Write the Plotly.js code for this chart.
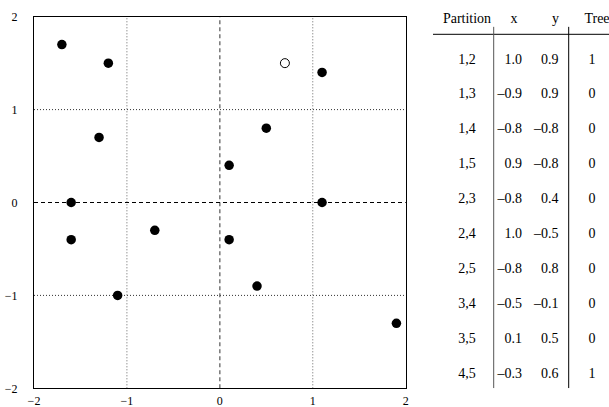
<!DOCTYPE html>
<html><head><meta charset="utf-8">
<script src="https://cdn.plot.ly/plotly-3.0.1.min.js"></script>
<style>html,body{margin:0;padding:0;background:#fff}</style>
</head><body><div id="chart" style="width:609px;height:407px"></div>
<script>
// scatter points
const filledX = [-1.7, -1.2, 1.1, -1.3, 0.5, 0.1, -1.6, 1.1, -1.6, -0.7, 0.1, -1.1, 0.4, 1.9];
const filledY = [1.7, 1.5, 1.4, 0.7, 0.8, 0.4, 0.0, 0.0, -0.4, -0.3, -0.4, -1.0, -0.9, -1.3];
const openX = [0.7];
const openY = [1.5];
const axisTicks = [-2, -1, 0, 1, 2];
const axisTickText = ['\u22122', '\u22121', '0', '1', '2'];

// table
const headers = ['Partition', 'x', 'y', 'Tree'];
const partitions = ['1,2','1,3','1,4','1,5','2,3','2,4','2,5','3,4','3,5','4,5'];
const tableX = [1.0, -0.9, -0.8, 0.9, -0.8, 1.0, -0.8, -0.5, 0.1, -0.3];
const tableY = [0.9, 0.9, -0.8, -0.8, 0.4, -0.5, 0.8, -0.1, 0.5, 0.6];
const tree = [1, 0, 0, 0, 0, 0, 0, 0, 0, 1];

const fmt = v => (v < 0 ? '\u2013' : '') + Math.abs(v).toFixed(1);
const rows = partitions.map((_, i) => i);
const serif = 'Liberation Serif';
const font = {family: serif, size: 14, color: '#000'};
const tickFont = {family: serif, size: 12, color: '#000'};

// column positions (table axis in px units)
const colPart = 467, colX = 522, colY = 558.5, colTree = 592;

const traces = [
  {x: filledX, y: filledY, mode: 'markers', type: 'scatter', xaxis: 'x', yaxis: 'y',
   marker: {size: 9.5, color: '#000', line: {width: 0}}, hoverinfo: 'skip'},
  {x: openX, y: openY, mode: 'markers', type: 'scatter', xaxis: 'x', yaxis: 'y',
   marker: {size: 9, color: '#fff', line: {width: 1, color: '#000'}}, hoverinfo: 'skip'},
  {x: rows.map(() => colPart), y: rows, text: partitions, mode: 'text', textposition: 'middle center',
   textfont: font, xaxis: 'x2', yaxis: 'y2', type: 'scatter', hoverinfo: 'skip'},
  {x: rows.map(() => colX), y: rows, text: tableX.map(fmt), mode: 'text', textposition: 'middle left',
   textfont: font, xaxis: 'x2', yaxis: 'y2', type: 'scatter', hoverinfo: 'skip'},
  {x: rows.map(() => colY), y: rows, text: tableY.map(fmt), mode: 'text', textposition: 'middle left',
   textfont: font, xaxis: 'x2', yaxis: 'y2', type: 'scatter', hoverinfo: 'skip'},
  {x: rows.map(() => colTree), y: rows, text: tree.map(String), mode: 'text', textposition: 'middle center',
   textfont: font, xaxis: 'x2', yaxis: 'y2', type: 'scatter', hoverinfo: 'skip'},
  {x: [colPart, colX - 8, colY - 3, colTree + 5], y: [-1.15, -1.15, -1.15, -1.15], text: headers,
   mode: 'text', textposition: 'middle center', textfont: font, xaxis: 'x2', yaxis: 'y2', type: 'scatter', hoverinfo: 'skip'}
];

const W = 609, H = 407;
const rowSpacing = 34.9, row0 = 60;
const px0 = 34 / W, px1 = 405.7 / W, py0 = (H - 388.3) / H, py1 = (H - 16.7) / H;
const dotLine = {color: '#666', width: 1, dash: '1px,2px'};
const layout = {
  width: W, height: H, showlegend: false,
  margin: {l: 0, r: 0, t: 0, b: 0},
  paper_bgcolor: '#fff', plot_bgcolor: '#fff',
  xaxis: {domain: [px0, px1], range: [-2, 2], tickvals: axisTicks, ticktext: axisTickText,
          showgrid: false, zeroline: false, showline: true, mirror: true, linecolor: '#000', linewidth: 1,
          ticks: '', ticklabelstandoff: 1, tickfont: tickFont},
  yaxis: {domain: [py0, py1], range: [-2, 2], tickvals: axisTicks, ticktext: axisTickText,
          showgrid: false, zeroline: false, showline: true, mirror: true, linecolor: '#000', linewidth: 1,
          ticks: '', ticklabelstandoff: 13, tickfont: tickFont},
  xaxis2: {domain: [420 / W, 1], range: [420, 609], visible: false, fixedrange: true},
  yaxis2: {domain: [0, 1], range: [(H - row0) / rowSpacing, -row0 / rowSpacing], visible: false, fixedrange: true, anchor: 'x2'},
  shapes: [
    {type: 'line', xref: 'x', yref: 'paper', x0: -1, x1: -1, y0: py0, y1: py1, layer: 'below', line: dotLine},
    {type: 'line', xref: 'x', yref: 'paper', x0: 1, x1: 1, y0: py0, y1: py1, layer: 'below', line: dotLine},
    {type: 'line', xref: 'paper', yref: 'y', y0: -1, y1: -1, x0: px0, x1: px1, layer: 'below', line: {color: '#333', width: 1, dash: '1px,2px'}},
    {type: 'line', xref: 'paper', yref: 'y', y0: 1, y1: 1, x0: px0, x1: px1, layer: 'below', line: {color: '#333', width: 1, dash: '1px,2px'}},
    {type: 'line', xref: 'x', yref: 'paper', x0: 0, x1: 0, y0: py0, y1: py1, layer: 'below', line: {color: '#555', width: 1.2, dash: '4px,3px'}},
    {type: 'line', xref: 'paper', yref: 'y', y0: 0, y1: 0, x0: px0, x1: px1, layer: 'below', line: {color: '#000', width: 1.2, dash: '4px,3px'}},
    // table rules
    {type: 'line', xref: 'x2', yref: 'y2', x0: 433, x1: 609, y0: -0.736, y1: -0.736, line: {color: '#000', width: 1}},
    {type: 'line', xref: 'x2', yref: 'y2', x0: 493.7, x1: 493.7, y0: -0.95, y1: 9.4, line: {color: '#555', width: 1}},
    {type: 'line', xref: 'x2', yref: 'y2', x0: 568.7, x1: 568.7, y0: -0.95, y1: 9.4, line: {color: '#000', width: 1}}
  ]
};
Plotly.newPlot('chart', traces, layout, {staticPlot: true, displayModeBar: false});
</script></body></html>
